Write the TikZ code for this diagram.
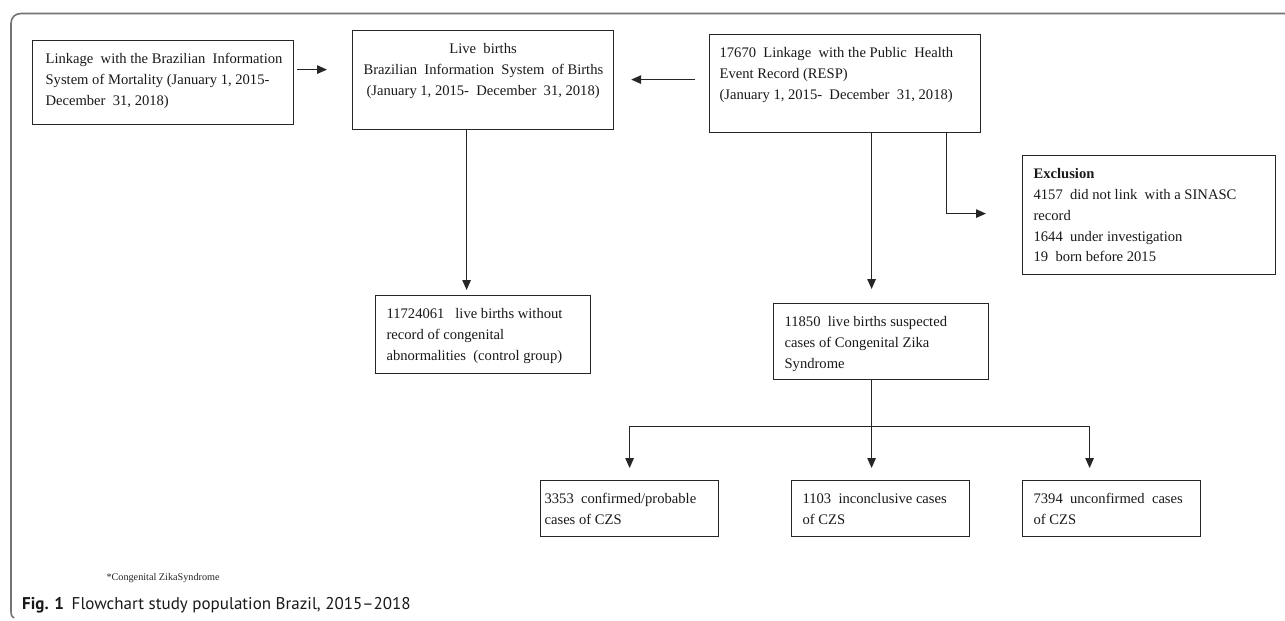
\documentclass[tikz,border=0pt]{standalone}
\usepackage{fontspec}
\setmainfont{Liberation Serif}
\newfontfamily\capfont{PT Sans}
\usetikzlibrary{arrows.meta}
\begin{document}
\begin{tikzpicture}[x=1pt,y=-1pt,
  box/.style={draw=black!85, line width=1.2pt, rectangle, inner xsep=11pt, inner ysep=12.5pt,
    anchor=north west, text=black!90, font=\fontsize{14.6}{20.8}\selectfont},
  link/.style={draw=black!85, line width=1.2pt},
  conn/.style={link, -{Triangle[length=10pt,width=8.5pt]}},
  frame/.style={draw=black!55, line width=1.6pt},
]
\useasboundingbox (0,0) rectangle (1285,621);
\fill[white] (0,0) rectangle (1285,621);

% outer frame
\draw[frame] (1285,13.5) -- (21,13.5) .. controls (15,13.5) and (11,17.5) .. (11,23.5)
  -- (11,611) .. controls (11,615) and (12,617) .. (14,618);

% boxes
\node[box, inner xsep=13pt] (A) at (32,40) {\parbox[c][59pt][t]{235pt}{\rule{0pt}{10.5pt}%
  \mbox{Linkage\ \ with the Brazilian\ \ Information}\\
  \mbox{System of Mortality (January 1, 2015-}\\
  \mbox{December\ \ 31, 2018)}}};

\node[box] (B) at (352,30) {\parbox[c][74pt][t]{239pt}{\centering\rule{0pt}{10.5pt}%
  \mbox{Live\ \ births}\\
  \mbox{Brazilian\ \ Information\ \ System\ \ of Births}\\
  \mbox{(January 1, 2015-\ \ December\ \ 31, 2018)}}};

\node[box, inner xsep=10pt] (C) at (709,34) {\parbox[c][73pt][t]{251pt}{\rule{0pt}{10.5pt}%
  \mbox{17670\ \ Linkage\ \ with the Public\ \ Health}\\
  \mbox{Event Record (RESP)}\\
  \mbox{(January 1, 2015-\ \ December\ \ 31, 2018)}}};

\node[box] (E) at (1022,155) {\parbox[c][94pt][t]{231pt}{\rule{0pt}{10.5pt}%
  \mbox{\textbf{Exclusion}}\\
  \mbox{4157\ \ did not link\ \ with a SINASC}\\
  \mbox{record}\\
  \mbox{1644\ \ under investigation}\\
  \mbox{19\ \ born before 2015}}};

\node[box] (F) at (375,295) {\parbox[c][53pt][t]{193pt}{\rule{0pt}{10.5pt}%
  \mbox{11724061\ \ \ live births without}\\
  \mbox{record of congenital}\\
  \mbox{abnormalities\ \ (control group)}}};

\node[box] (D) at (773,303) {\parbox[c][51pt][t]{193pt}{\rule{0pt}{10.5pt}%
  \mbox{11850\ \ live births suspected}\\
  \mbox{cases of Congenital Zika}\\
  \mbox{Syndrome}}};

\node[box, inner xsep=4pt] (G1) at (540,480) {\parbox[c][31pt][t]{170pt}{\rule{0pt}{10.5pt}%
  \mbox{3353\ \ confirmed/probable}\\
  \mbox{cases of CZS}}};

\node[box] (G2) at (791,480) {\parbox[c][31pt][t]{156pt}{\rule{0pt}{10.5pt}%
  \mbox{1103\ \ inconclusive cases}\\
  \mbox{of CZS}}};

\node[box] (G3) at (1022,480) {\parbox[c][31pt][t]{156pt}{\rule{0pt}{10.5pt}%
  \mbox{7394\ \ unconfirmed\ \ cases}\\
  \mbox{of CZS}}};

% connectors
\draw[conn] ([xshift=3pt,yshift=13pt]A.east) -- ([xshift=-25pt,yshift=10.5pt]B.west);
\draw[conn] ([xshift=-14pt,yshift=4pt]C.west) -- ([xshift=17pt,yshift=0.5pt]B.east);
\draw[conn] ([xshift=-16.5pt]B.south) -- ([xshift=-16.5pt,yshift=5pt]F.north);
\draw[conn] ([xshift=26.5pt]C.south) -- ([xshift=-9.5pt,yshift=14pt]D.north);
\draw[conn] ([xshift=101.5pt]C.south) |- ([xshift=-36pt,yshift=1.5pt]E.west);

\coordinate (J) at ([xshift=-9.5pt,yshift=-46pt]D.south);
\draw[link] ([xshift=-9.5pt]D.south) -- (J);
\draw[conn] (J) -| ([yshift=12pt]G1.north);
\draw[conn] (J) -- ([xshift=-9pt,yshift=12pt]G2.north);
\draw[conn] (J) -| ([xshift=-22pt,yshift=12pt]G3.north);

% footnote and caption
\node[anchor=base west, font=\fontsize{10.2}{12}\selectfont, text=black!85] (fn) at (103,580) {*Congenital ZikaSyndrome};
\node[anchor=base west, inner sep=0pt, font=\capfont\fontsize{17}{20}\selectfont, text=black!90] (cap) at (22,609.5)
  {\textbf{Fig. 1}\hspace{0.45em}Flowchart study population Brazil, 2015–2018};
\end{tikzpicture}
\end{document}
